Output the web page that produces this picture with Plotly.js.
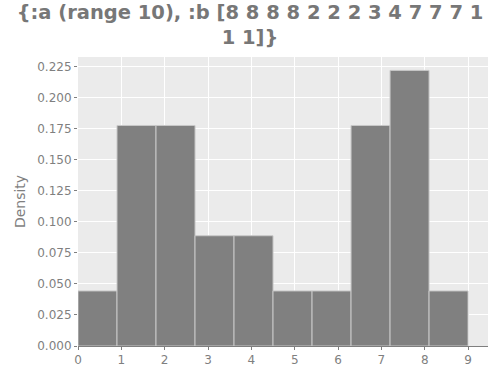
<!DOCTYPE html>
<html><head><meta charset="utf-8">
<script src="https://cdn.plot.ly/plotly-3.0.1.min.js"></script>
<style>body{margin:0;padding:0;background:#fff}#chart{width:500px;height:372px}</style>
</head><body><div id="chart"></div>
<script>
var binStarts = [0, 0.9, 1.8, 2.7, 3.6, 4.5, 5.4, 6.3, 7.2, 8.1];
var binWidth = 0.9;
var density = [0.0444, 0.1778, 0.1778, 0.0889, 0.0889, 0.0444, 0.0444, 0.1778, 0.2222, 0.0444];
var yTicks = [0, 0.025, 0.05, 0.075, 0.1, 0.125, 0.15, 0.175, 0.2, 0.225];
var yTickText = ["0.000","0.025","0.050","0.075","0.100","0.125","0.150","0.175","0.200","0.225"];
var xTicks = [0,1,2,3,4,5,6,7,8,9];

var trace = {
  type: 'bar',
  x: binStarts.map(function(s){return s + binWidth/2;}),
  y: density,
  width: binWidth,
  marker: {color: '#808080', line: {color: '#c8c8c8', width: 1}},
  hoverinfo: 'none'
};
var layout = {
  width: 500, height: 372,
  margin: {l: 78, r: 12, t: 57, b: 26},
  paper_bgcolor: '#ffffff',
  plot_bgcolor: '#ebebeb',
  font: {family: 'DejaVu Sans', color: '#7f7f7f', size: 12},
  title: {text: '{:a (range 10), :b [8 8 8 8 2 2 2 3 4 7 7 7 1<br>1 1]}',
    font: {family: 'DejaVu Sans', size: 19.5, color: '#777777', weight: 'bold'},
    x: 0.5, xanchor: 'center', yref: 'container', y: 0.95, yanchor: 'middle'},
  showlegend: false,
  bargap: 0,
  xaxis: {range: [0, 9.46], tickvals: xTicks, ticks: 'outside', ticklen: 3, tickcolor: '#7f7f7f',
    showgrid: true, gridcolor: '#ffffff', gridwidth: 1, zeroline: false, showline: false,
    tickfont: {size: 12, color: '#7f7f7f'}},
  yaxis: {range: [0, 0.233], tickvals: yTicks, ticktext: yTickText, ticks: 'outside', ticklen: 3, tickcolor: '#7f7f7f',
    showgrid: true, gridcolor: '#ffffff', gridwidth: 1, zeroline: true, zerolinecolor: '#7f7f7f', zerolinewidth: 1,
    showline: false, tickfont: {size: 12, color: '#7f7f7f'},
    title: {text: 'Density', font: {size: 14, color: '#7f7f7f'}, standoff: 8}}
};
Plotly.newPlot('chart', [trace], layout, {displayModeBar: false, staticPlot: true});
</script></body></html>
